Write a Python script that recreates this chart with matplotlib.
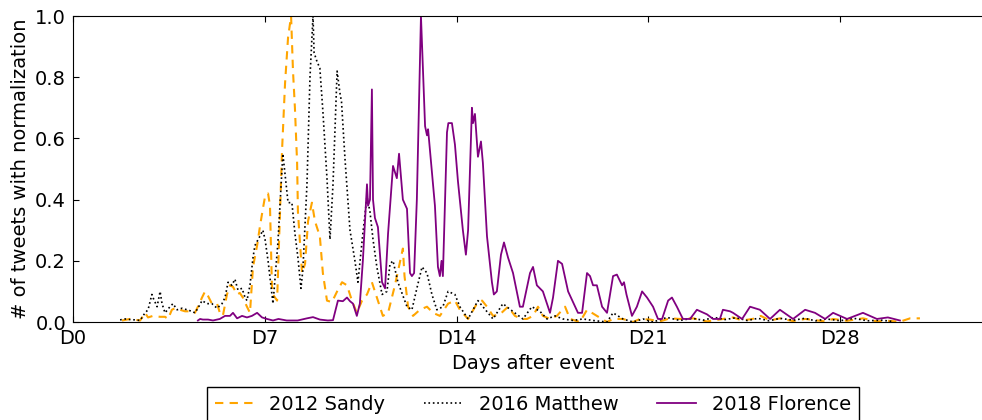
import numpy as np
import matplotlib
matplotlib.use('Agg')
import matplotlib.pyplot as plt

# Days after the event and normalized tweet counts
sandy_days = [1.79, 2.08, 2.45, 2.63, 2.74, 2.92, 3.18, 3.36, 3.47, 3.61, 3.72, 3.91, 4.09, 4.27, 4.45,
              4.56, 4.71, 4.82, 4.93, 5.07, 5.26, 5.36, 5.47, 5.62, 5.73, 5.84, 5.99, 6.09, 6.20, 6.35,
              6.46, 6.57, 6.72, 6.82, 6.93, 7.01, 7.12, 7.19, 7.26, 7.30, 7.45, 7.63, 7.74, 7.85, 7.96,
              8.03, 8.10, 8.18, 8.21, 8.36, 8.47, 8.58, 8.72, 8.83, 9.01, 9.12, 9.27, 9.45, 9.64, 9.82,
              10.00, 10.18, 10.36, 10.55, 10.73, 10.91, 11.09, 11.31, 11.50, 11.75, 12.04, 12.10, 12.23,
              12.41, 12.66, 12.92, 13.14, 13.39, 13.69, 13.94, 14.12, 14.42, 14.74, 14.93, 15.11, 15.33,
              15.58, 15.88, 16.13, 16.39, 16.57, 16.79, 16.97, 17.15, 17.41, 17.66, 17.96, 18.14, 18.50,
              18.76, 19.12, 19.49, 19.71, 20.07, 20.44, 20.69, 21.06, 21.42, 21.79, 22.15, 22.63, 23.14,
              23.72, 24.09, 24.42, 24.80, 25.10, 25.44, 25.80, 26.28, 26.72, 27.08, 27.45, 27.74, 28.25,
              28.83, 29.34, 29.74, 30.18, 30.55, 30.91]
sandy_vals = [0.005, 0.01, 0.005, 0.03, 0.015, 0.02, 0.017, 0.017, 0.01, 0.04, 0.045, 0.04, 0.035, 0.035, 0.03,
              0.05, 0.08, 0.10, 0.085, 0.06, 0.06, 0.03, 0.02, 0.09, 0.12, 0.115, 0.09, 0.095, 0.08, 0.05,
              0.03, 0.18, 0.25, 0.31, 0.37, 0.41, 0.42, 0.38, 0.12, 0.09, 0.07, 0.56, 0.78, 0.93, 1.0,
              0.82, 0.70, 0.52, 0.36, 0.16, 0.19, 0.33, 0.39, 0.33, 0.28, 0.16, 0.07, 0.065, 0.10, 0.13,
              0.12, 0.07, 0.03, 0.07, 0.09, 0.13, 0.08, 0.02, 0.03, 0.12, 0.24, 0.15, 0.05,
              0.02, 0.04, 0.05, 0.03, 0.02, 0.06, 0.07, 0.04, 0.01, 0.06, 0.07, 0.05, 0.02,
              0.025, 0.05, 0.02, 0.01, 0.01, 0.02, 0.05, 0.02, 0.01, 0.02, 0.05, 0.01, 0.0,
              0.04, 0.02, 0.0, 0.01, 0.01, 0.0, 0.01, 0.008, 0.002, 0.012, 0.01, 0.012, 0.002,
              0.01, 0.015, 0.005, 0.01, 0.02, 0.005, 0.012, 0.003, 0.01, 0.006, 0.002, 0.01, 0.004,
              0.012, 0.002, 0.004, 0.001, 0.012, 0.012]

matthew_days = [1.72, 1.90, 2.08, 2.26, 2.45, 2.63, 2.74, 2.88, 2.92, 3.07, 3.18, 3.25, 3.36, 3.54, 3.65,
                3.80, 3.98, 4.16, 4.34, 4.45, 4.56, 4.71, 4.89, 5.07, 5.26, 5.44, 5.55, 5.66, 5.80, 5.91,
                6.02, 6.17, 6.28, 6.35, 6.46, 6.57, 6.64, 6.82, 6.93, 7.01, 7.12, 7.30, 7.48, 7.66, 7.72,
                7.85, 7.99, 8.10, 8.21, 8.32, 8.39, 8.54, 8.65, 8.76, 8.80, 8.91, 9.01, 9.12, 9.27, 9.38,
                9.49, 9.64, 9.74, 9.80, 9.93, 10.11, 10.29, 10.40, 10.58, 10.73, 10.84, 10.95, 11.09, 11.28,
                11.46, 11.57, 11.68, 11.86, 12.19, 12.37, 12.55, 12.74, 12.92, 13.10, 13.28, 13.50, 13.69,
                13.94, 14.12, 14.42, 14.60, 14.78, 14.96, 15.33, 15.69, 15.90, 16.42, 16.75, 17.04, 17.30,
                17.59, 17.88, 18.25, 18.61, 18.98, 19.49, 19.71, 20.07, 20.44, 20.80, 21.17, 21.68, 22.15,
                22.60, 23.00, 23.40, 23.80, 24.20, 24.60, 25.00, 25.40, 25.80, 26.30, 26.70, 27.10, 27.50,
                28.00, 28.50, 29.00, 29.50, 29.90]
matthew_vals = [0.007, 0.01, 0.008, 0.007, 0.005, 0.03, 0.04, 0.09, 0.08, 0.05, 0.10, 0.06, 0.03, 0.05, 0.06,
                0.04, 0.045, 0.04, 0.035, 0.03, 0.045, 0.07, 0.06, 0.06, 0.045, 0.06, 0.08, 0.13, 0.12, 0.14,
                0.105, 0.11, 0.08, 0.07, 0.12, 0.21, 0.25, 0.28, 0.30, 0.27, 0.20, 0.06, 0.26, 0.55, 0.50,
                0.39, 0.39, 0.29, 0.21, 0.11, 0.17, 0.45, 0.80, 1.0, 0.88, 0.85, 0.83, 0.69, 0.47, 0.27,
                0.45, 0.82, 0.75, 0.72, 0.53, 0.30, 0.20, 0.13, 0.29, 0.41, 0.36, 0.27, 0.18, 0.09,
                0.10, 0.19, 0.20, 0.13, 0.05, 0.04, 0.11, 0.18, 0.16, 0.09, 0.04, 0.05, 0.10,
                0.09, 0.05, 0.01, 0.04, 0.07, 0.05, 0.01, 0.06, 0.045, 0.01, 0.05, 0.035, 0.01,
                0.02, 0.01, 0.005, 0.01, 0.005, 0.0, 0.03, 0.01, 0.0, 0.01, 0.0, 0.015, 0.005,
                0.012, 0.006, 0.015, 0.008, 0.014, 0.005, 0.012, 0.004, 0.012, 0.006, 0.012, 0.004, 0.01,
                0.004, 0.012, 0.004, 0.006, 0.002]

florence_days = [4.56, 4.64, 4.74, 4.93, 5.11, 5.36, 5.55, 5.73, 5.84, 5.99, 6.17, 6.35, 6.53, 6.72, 6.90,
                 7.08, 7.30, 7.50, 7.80, 8.20, 8.54, 8.76, 9.01, 9.30, 9.49, 9.67, 9.85, 10.00, 10.11, 10.22,
                 10.36, 10.47, 10.58, 10.73, 10.77, 10.84, 10.91, 10.95, 11.02, 11.13, 11.28, 11.39, 11.50,
                 11.68, 11.82, 11.90, 12.04, 12.19, 12.30, 12.37, 12.45, 12.55, 12.70, 12.85, 12.92, 12.96,
                 13.21, 13.32, 13.39, 13.45, 13.50, 13.65, 13.70, 13.83, 13.94, 14.05, 14.23, 14.34, 14.42,
                 14.56, 14.60, 14.67, 14.78, 14.89, 14.96, 15.11, 15.29, 15.36, 15.47, 15.62, 15.73, 15.88,
                 16.06, 16.31, 16.42, 16.68, 16.79, 16.93, 17.15, 17.41, 17.52, 17.70, 17.85, 18.07, 18.43,
                 18.58, 18.76, 18.87, 18.98, 19.12, 19.31, 19.49, 19.71, 19.85, 20.04, 20.11, 20.20, 20.40,
                 20.58, 20.77, 20.95, 21.17, 21.35, 21.50, 21.72, 21.86, 22.04, 22.26, 22.52, 22.77, 23.14,
                 23.36, 23.61, 23.72, 23.98, 24.09, 24.42, 24.71, 25.07, 25.44, 25.80, 26.28, 26.72, 27.08,
                 27.45, 27.74, 28.25, 28.83, 29.34, 29.74, 30.18]
florence_vals = [0.005, 0.01, 0.008, 0.008, 0.005, 0.01, 0.02, 0.02, 0.03, 0.012, 0.02, 0.015, 0.02, 0.03, 0.015,
                 0.01, 0.005, 0.01, 0.005, 0.005, 0.012, 0.016, 0.008, 0.005, 0.006, 0.07, 0.068, 0.08, 0.068, 0.06,
                 0.02, 0.06, 0.20, 0.45, 0.38, 0.40, 0.76, 0.40, 0.34, 0.31, 0.13, 0.11, 0.29,
                 0.51, 0.47, 0.55, 0.40, 0.37, 0.16, 0.15, 0.16, 0.40, 1.0, 0.64, 0.61, 0.63,
                 0.38, 0.18, 0.15, 0.20, 0.15, 0.62, 0.65, 0.65, 0.58, 0.46, 0.30, 0.22, 0.30,
                 0.70, 0.65, 0.68, 0.54, 0.59, 0.52, 0.28, 0.13, 0.09, 0.10, 0.22, 0.26, 0.21,
                 0.16, 0.05, 0.05, 0.16, 0.18, 0.12, 0.10, 0.03, 0.08, 0.20, 0.19, 0.10, 0.03,
                 0.03, 0.16, 0.15, 0.12, 0.12, 0.05, 0.03, 0.15, 0.155, 0.12, 0.13, 0.09, 0.02,
                 0.05, 0.10, 0.08, 0.05, 0.01, 0.01, 0.07, 0.08, 0.05, 0.01, 0.01, 0.04, 0.025,
                 0.01, 0.01, 0.04, 0.035, 0.03, 0.01, 0.05, 0.04, 0.01, 0.04, 0.01, 0.04, 0.03,
                 0.01, 0.03, 0.01, 0.03, 0.01, 0.015, 0.005]

tick_days = [0, 7, 14, 21, 28]
tick_labels = ['D0', 'D7', 'D14', 'D21', 'D28']

plt.rcParams['font.family'] = 'DejaVu Sans'
plt.rcParams['font.size'] = 14
plt.rcParams['xtick.direction'] = 'in'
plt.rcParams['ytick.direction'] = 'in'

fig = plt.figure(figsize=(9.82, 4.2), dpi=100)
ax = fig.add_axes([0.0743, 0.2333, 0.937, 0.7286])

ax.plot(sandy_days, sandy_vals, color='orange', lw=1.5, dashes=(4, 3), label='2012 Sandy')
ax.plot(matthew_days, matthew_vals, ':', color='black', lw=1.2, label='2016 Matthew')
ax.plot(florence_days, florence_vals, '-', color='purple', lw=1.3, label='2018 Florence')

ax.set_xlim(0, 33.58)
ax.set_ylim(0, 1)
ax.set_xticks(tick_days)
ax.set_xticklabels(tick_labels)
ax.set_yticks(np.arange(0, 1.01, 0.2))
ax.tick_params(top=True, right=True, length=4, pad=5)
ax.set_xlabel('Days after event')
ax.set_ylabel('# of tweets with normalization')

ax.legend(loc='upper center', bbox_to_anchor=(0.5, -0.212), ncol=3, fancybox=False,
          edgecolor='black', framealpha=1, borderaxespad=0)

fig.savefig('out.png', dpi=100)
